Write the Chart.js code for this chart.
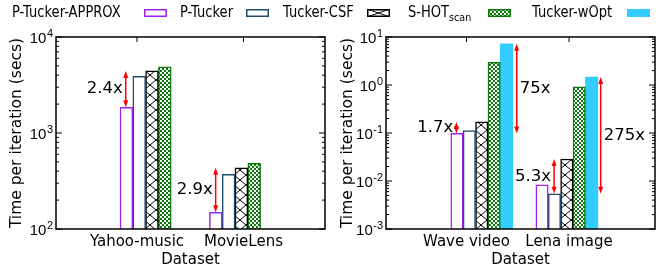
<!DOCTYPE html>
<html>
<head>
<meta charset="utf-8">
<script src="https://cdn.jsdelivr.net/npm/chart.js@4.4.1/dist/chart.umd.min.js"></script>
<style>
  body { margin: 0; background: #fff; }
  #wrap { position: relative; width: 662px; height: 272px; font-family: 'DejaVu Sans', sans-serif; }
  .panel { position: absolute; top: 0; width: 331px; height: 272px; }
  .lg-text { position: absolute; top: 3px; font-family: 'DejaVu Sans', sans-serif; font-size: 15px; line-height: 18px; color: #000; white-space: nowrap; transform: scaleX(0.87); transform-origin: 0 0; }
  .lg-text sub { font-size: 11px; vertical-align: -4px; }
  .lg-box { position: absolute; top: 9px; }
</style>
</head>
<body>
<div id="wrap">
  <div class="panel" style="left:0"><canvas id="chart-left"></canvas></div>
  <div class="panel" style="left:331px"><canvas id="chart-right"></canvas></div>
  <div id="legend"></div>
</div>
<script>
// series, in legend order
const seriesNames = ['P-Tucker-APPROX', 'P-Tucker', 'Tucker-CSF', 'S-HOTscan', 'Tucker-wOpt']

// left panel: seconds per iteration
const leftCategories = ['Yahoo-music', 'MovieLens']
const leftApprox = [1850, 149]
const leftPTucker = [3900, 372]
const leftCsf = [4430, 435]
const leftShot = [4900, 483]
const leftWopt = [null, null]
const leftYTicks = [100, 1000, 10000]
const leftYExp = ['2', '3', '4']

// right panel
const rightCategories = ['Wave video', 'Lena image']
const rightApprox = [0.098, 0.0083]
const rightPTucker = [0.112, 0.0054]
const rightCsf = [0.17, 0.0287]
const rightShot = [2.95, 0.92]
const rightWopt = [7.2, 1.47]
const rightYTicks = [0.001, 0.01, 0.1, 1, 10]
const rightYExp = ['-3', '-2', '-1', '0', '1']

const FONT = "'DejaVu Sans', sans-serif"
const TICK_FONT = "'Liberation Sans', Arial, sans-serif"
const RED = '#ff0000'

function makePattern(w, h, draw) {
  const c = document.createElement('canvas')
  c.width = w
  c.height = h
  const g = c.getContext('2d')
  draw(g, w, h)
  return g.createPattern(c, 'repeat')
}

function drawHatch(g, w, h) {
  g.fillStyle = '#fff'
  g.fillRect(0, 0, w, h)
  g.strokeStyle = '#000'
  g.lineWidth = 1
  g.beginPath()
  g.moveTo(0, 0); g.lineTo(w, h)
  g.moveTo(w, 0); g.lineTo(0, h)
  g.stroke()
}

function drawChecker(g, w, h) {
  g.fillStyle = '#0b7a0b'
  g.fillRect(0, 0, w, h)
  g.fillStyle = '#fff'
  g.fillRect(0, 0, 2, 2)
  g.fillRect(2, 2, 2, 2)
}

const hatch = makePattern(12, 10, drawHatch)
const checker = makePattern(4, 4, drawChecker)

const seriesStyles = [
  { backgroundColor: '#fff', borderColor: '#a020f0', borderWidth: 1.5 },
  { backgroundColor: '#fff', borderColor: '#1e4d6b', borderWidth: 1.5 },
  { backgroundColor: hatch, borderColor: '#000', borderWidth: 1.5 },
  { backgroundColor: checker, borderColor: '#0b7a0b', borderWidth: 1.5 },
  { backgroundColor: '#33ccff', borderColor: '#33ccff', borderWidth: 0 }
]

// legend (html, text then sample box)
const legendText = [12, 180, 283, 408, 532]
const legendBox = [144, 246, 367, 488, 627]
const $legend = document.getElementById('legend')
seriesNames.forEach((name, i) => {
  const $t = document.createElement('div')
  $t.className = 'lg-text'
  $t.style.left = legendText[i] + 'px'
  $t.innerHTML = name === 'S-HOTscan' ? 'S-HOT<sub>scan</sub>' : name
  $legend.appendChild($t)

  const $c = document.createElement('canvas')
  $c.className = 'lg-box'
  $c.width = 23
  $c.height = 8
  $c.style.left = legendBox[i] + 'px'
  const g = $c.getContext('2d')
  const s = seriesStyles[i]
  if (i === 2) drawHatch(g, 23, 8)
  else if (i === 3) { g.fillStyle = checker; g.fillRect(0, 0, 23, 8) }
  else { g.fillStyle = s.backgroundColor; g.fillRect(0, 0, 23, 8) }
  if (s.borderWidth) {
    g.strokeStyle = s.borderColor
    g.lineWidth = 1.5
    g.strokeRect(0.75, 0.75, 21.5, 6.5)
  }
  $legend.appendChild($c)
})

// border, inward tics (gnuplot style) and 10^n labels
function framePlugin(yTicks, yExp) {
  return {
    id: 'frame',
    afterDraw(chart) {
      const { ctx, chartArea: a, scales: { x, y } } = chart
      ctx.save()
      ctx.strokeStyle = '#000'
      ctx.lineWidth = 1
      ctx.beginPath()
      for (let d = 0; d < yTicks.length; d++) {
        for (let k = 1; k <= 9; k++) {
          const v = yTicks[d] * k
          if (v > yTicks[yTicks.length - 1]) break
          const py = y.getPixelForValue(v)
          const len = k === 1 ? 6 : 3
          ctx.moveTo(a.left, py); ctx.lineTo(a.left + len, py)
          ctx.moveTo(a.right, py); ctx.lineTo(a.right - len, py)
        }
      }
      x.ticks.forEach(t => {
        const px = x.getPixelForValue(t.value)
        ctx.moveTo(px, a.top); ctx.lineTo(px, a.top + 5)
      })
      ctx.stroke()
      ctx.lineWidth = 1.5
      ctx.strokeRect(a.left, a.top, a.width, a.height)

      ctx.fillStyle = '#000'
      ctx.textAlign = 'right'
      ctx.textBaseline = 'alphabetic'
      yTicks.forEach((v, i) => {
        const py = y.getPixelForValue(v)
        const right = a.left - 3
        ctx.font = '11px ' + TICK_FONT
        const ew = ctx.measureText(yExp[i]).width
        ctx.fillText(yExp[i], right, py + 0)
        ctx.font = '15px ' + TICK_FONT
        ctx.fillText('10', right - ew - 0.5, py + 5.5)
      })
      ctx.restore()
    }
  }
}

function arrowHead(ctx, px, py, dir) {
  ctx.beginPath()
  ctx.moveTo(px, py)
  ctx.lineTo(px - 2.5, py + dir * 7)
  ctx.lineTo(px + 2.5, py + dir * 7)
  ctx.closePath()
  ctx.fill()
}

function speedupPlugin(items) {
  return {
    id: 'speedup',
    afterDraw(chart) {
      const { ctx, scales: { x, y } } = chart
      ctx.save()
      ctx.strokeStyle = RED
      ctx.fillStyle = RED
      ctx.lineWidth = 1.5
      items.forEach(it => {
        const px = x.getPixelForValue(it.x)
        const top = y.getPixelForValue(it.hi)
        const bottom = y.getPixelForValue(it.lo)
        ctx.beginPath()
        ctx.moveTo(px, top + 4)
        ctx.lineTo(px, bottom - 4)
        ctx.stroke()
        arrowHead(ctx, px, top, 1)
        arrowHead(ctx, px, bottom, -1)
      })
      ctx.fillStyle = '#000'
      ctx.font = '16.5px ' + FONT
      ctx.textBaseline = 'middle'
      items.forEach(it => {
        const px = x.getPixelForValue(it.x)
        const mid = (y.getPixelForValue(it.hi) + y.getPixelForValue(it.lo)) / 2
        ctx.textAlign = it.side === 'left' ? 'right' : 'left'
        ctx.fillText(it.label, it.side === 'left' ? px - 3 : px + 3, mid)
      })
      ctx.restore()
    }
  }
}

function crearPanel(id, p) {
  const ctx = document.getElementById(id).getContext('2d')
  const datasets = p.series.map((vals, i) => ({
    label: seriesNames[i],
    data: vals.map((v, j) => ({ x: p.groupX[j], y: v })),
    barThickness: p.barWidth,
    borderSkipped: 'start',
    ...seriesStyles[i]
  }))

  return new Chart(ctx, {
    type: 'bar',
    data: { datasets },
    options: {
      responsive: true,
      maintainAspectRatio: false,
      animation: false,
      layout: { padding: { top: 37, right: p.padRight, left: 0, bottom: 0 } },
      plugins: { legend: { display: false }, tooltip: { enabled: false } },
      scales: {
        x: {
          type: 'linear',
          min: p.xMin,
          max: p.xMax,
          offset: false,
          grid: { display: false, drawTicks: false },
          border: { display: false },
          afterBuildTicks: s => { s.ticks = p.labelX.map(v => ({ value: v })) },
          ticks: {
            callback: (v, i) => p.categories[i],
            autoSkip: false,
            maxRotation: 0,
            padding: 4,
            color: '#000',
            font: { family: FONT, size: 15 }
          },
          title: {
            display: true,
            text: 'Dataset',
            color: '#000',
            font: { family: FONT, size: 15 },
            padding: { top: 3, bottom: 3 }
          },
          afterFit: s => { s.height = 43 }
        },
        y: {
          type: 'logarithmic',
          min: p.yTicks[0],
          max: p.yTicks[p.yTicks.length - 1],
          grid: { display: false, drawTicks: false },
          border: { display: false },
          afterBuildTicks: s => { s.ticks = p.yTicks.map(v => ({ value: v })) },
          ticks: { display: false },
          title: {
            display: true,
            text: 'Time per iteration (secs)',
            color: '#000',
            font: { family: FONT, size: 15.5 },
            padding: { top: 8, bottom: 8 }
          },
          afterFit: s => { s.width = p.axisWidth }
        }
      }
    },
    plugins: [framePlugin(p.yTicks, p.yExp), speedupPlugin(p.speedups)]
  })
}

crearPanel('chart-left', {
  categories: leftCategories,
  series: [leftApprox, leftPTucker, leftCsf, leftShot, leftWopt],
  yTicks: leftYTicks,
  yExp: leftYExp,
  groupX: [0, 1],
  labelX: [-0.168, 1.023],
  xMin: -1.074,
  xMax: 1.935,
  barWidth: 12.8,
  axisWidth: 56,
  padRight: 6,
  speedups: [
    { x: -0.294, lo: leftApprox[0], hi: leftCsf[0], label: '2.4x', side: 'left' },
    { x: 0.712, lo: leftApprox[1], hi: leftCsf[1], label: '2.9x', side: 'left' }
  ]
})

crearPanel('chart-right', {
  categories: rightCategories,
  series: [rightApprox, rightPTucker, rightCsf, rightShot, rightWopt],
  yTicks: rightYTicks,
  yExp: rightYExp,
  groupX: [0, 1],
  labelX: [-0.179, 1.026],
  xMin: -1.125,
  xMax: 2.036,
  barWidth: 12.4,
  axisWidth: 55,
  padRight: 7,
  speedups: [
    { x: -0.298, lo: rightApprox[0], hi: rightCsf[0], label: '1.7x', side: 'left' },
    { x: 0.411, lo: rightApprox[0], hi: rightWopt[0], label: '75x', side: 'right' },
    { x: 0.85, lo: rightPTucker[1], hi: rightCsf[1], label: '5.3x', side: 'left' },
    { x: 1.398, lo: rightPTucker[1], hi: rightWopt[1], label: '275x', side: 'right' }
  ]
})
</script>
</body>
</html>
